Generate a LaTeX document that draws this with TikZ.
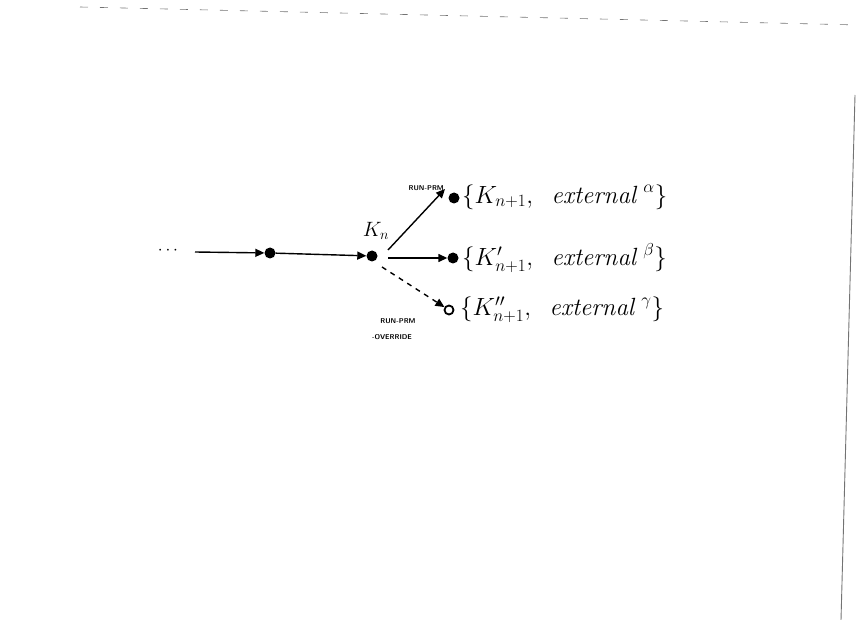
\documentclass[tikz,border=0pt]{standalone}
\usetikzlibrary{arrows.meta}
\begin{document}
\begin{tikzpicture}[x=1pt,y=-1pt,
  dotnode/.style={circle,fill=black,inner sep=0pt,minimum size=11pt},
  opennode/.style={circle,draw=black,line width=1.8pt,fill=white,inner sep=0pt,minimum size=9pt},
  arr/.style={-{Triangle[length=9pt,width=8pt]},line width=1.4pt},
  dasharr/.style={arr,dash pattern=on 5pt off 5pt},
  settxt/.style={anchor=west,inner sep=0pt,font=\fontsize{24}{28}\selectfont},
  small/.style={font=\sffamily\bfseries\fontsize{7}{8}\selectfont,inner sep=0pt},
  edge/.style={line width=0.6pt,black!55}]
\useasboundingbox (0,0) rectangle (859,620);
% scan page edges
\draw[edge,dash pattern=on 8pt off 12pt] (80,7) coordinate (t1) -- (859,25) coordinate (t2);
\draw[edge,line width=0.9pt] (855,95) coordinate (r1) -- (841,620) coordinate (r2);
% nodes
\node (dots) at (168,251) {\fontsize{16}{16}\selectfont$\cdots$};
\coordinate (s) at (195,252);
\node[dotnode] (a) at (270,253) {};
\node[dotnode] (kn) at (372,256) {};
\node (knl) at (376,231) {\fontsize{21}{21}\selectfont$K_n$};
\node[dotnode] (t) at (454,198) {};
\node[dotnode] (m) at (453,258) {};
\node[opennode] (b) at (449,310) {};
\node[settxt] (tt) at (462,197) {$\{K_{n+1},\ \ \mathit{external}^{\;\alpha}\}$};
\node[settxt] (mt) at (462,258) {$\{K'_{n+1},\ \ \mathit{external}^{\;\beta}\}$};
\node[settxt] (bt) at (460,310) {$\{K''_{n+1},\ \ \mathit{external}^{\;\gamma}\}$};
\node[small,anchor=east] (rp) at (444,188) {RUN-PRM};
\node[small] (ro1) at (398,321) {RUN-PRM};
\node[small] (ro2) at (392,337) {-OVERRIDE};
% connectors
\draw[arr] (s) -- (a);
\draw[arr] (a) -- (kn);
\draw[arr] (kn) ++(16,-6) coordinate (k1) (k1) -- ([xshift=-9pt,yshift=9pt]t.center);
\draw[arr] (kn) ++(16,2) coordinate (k2) (k2) -- (m);
\draw[dasharr] (kn) ++(10,11) coordinate (k3) (k3) -- (b);
\end{tikzpicture}
\end{document}
